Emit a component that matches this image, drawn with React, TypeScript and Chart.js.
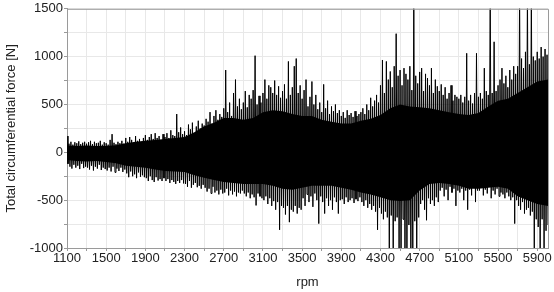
import React, { useEffect, useRef } from "react";
import { Chart, registerables } from "chart.js";

Chart.register(...registerables);

// Sample positions (rpm): one oscillation peak/trough pair per 20 rpm
const rpmStart = 1100;
const rpmStep = 20;

// Upper peaks [N] per sample (rows = 200 rpm)
const upperPeaks: number[] = [
  170, 90, 110, 80, 105, 95, 115, 85, 100, 110,
  90, 105, 120, 85, 110, 95, 100, 120, 80, 105,
  95, 80, 130, 190, 100, 85, 110, 95, 120, 90,
  150, 110, 160, 130, 100, 170, 120, 140, 110, 150,
  180, 130, 160, 190, 140, 200, 150, 170, 130, 190,
  160, 200, 150, 230, 180, 170, 400, 210, 260, 190,
  220, 180, 290, 240, 310, 200, 270, 330, 250, 300,
  280, 350, 320, 420, 300, 380, 440, 340, 400, 370,
  460, 860, 420, 520, 380, 620, 760, 480, 560, 450,
  520, 640, 470, 600, 560, 650, 1010, 500, 590, 520,
  620, 760, 560, 700, 680, 620, 750, 600, 690, 570,
  640, 710, 560, 950, 600, 680, 900, 980, 620, 700,
  560, 650, 760, 480, 580, 740, 500, 600, 450, 520,
  420, 710, 460, 540, 400, 480, 430, 500, 410, 440,
  380, 420, 360, 440, 390, 410, 370, 430, 380, 400,
  420, 460, 400, 500, 440, 570, 480, 540, 600, 520,
  700, 965, 620, 950, 760, 845, 680, 900, 1240, 800,
  860, 700, 880, 820, 760, 900, 650, 1700, 800, 720,
  840, 880, 640, 820, 775, 700, 880, 620, 760, 690,
  640, 710, 600, 680, 560, 620, 700, 540, 600, 580,
  560, 600, 520, 580, 1035, 540, 600, 510, 620, 1035,
  580, 620, 560, 880, 640, 600, 1700, 620, 1155, 640,
  700, 760, 880, 720, 800, 680, 860, 760, 900, 820,
  900, 1700, 980, 880, 1050, 1700, 920, 1700, 1000, 960,
  1050, 980, 1100, 1000, 1080, 1020,
];

// Lower troughs [N] per sample
const lowerPeaks: number[] = [
  -120, -150, -170, -130, -160, -140, -175, -120, -165, -150,
  -160, -180, -140, -190, -150, -170, -130, -185, -160, -175,
  -190, -160, -200, -150, -210, -170, -195, -160, -205, -180,
  -220, -260, -200, -250, -230, -270, -210, -255, -240, -260,
  -270, -300, -250, -290, -310, -260, -295, -280, -300, -270,
  -300, -280, -320, -290, -310, -330, -300, -320, -290, -325,
  -330, -360, -300, -370, -340, -320, -365, -350, -380, -340,
  -370, -410, -380, -430, -360, -420, -400, -440, -390, -430,
  -420, -380, -450, -400, -440, -410, -460, -420, -430, -400,
  -430, -460, -420, -480, -440, -470, -555, -430, -460, -480,
  -500, -460, -540, -480, -560, -510, -600, -520, -810, -560,
  -580, -650, -560, -730, -600, -620, -560, -640, -580, -600,
  -480, -560, -440, -520, -460, -570, -430, -500, -745, -460,
  -520, -640, -480, -560, -500, -600, -470, -520, -640, -500,
  -490, -540, -470, -520, -500, -480, -530, -490, -510, -470,
  -520, -560, -500, -580, -540, -600, -560, -620, -810, -580,
  -640, -700, -620, -680, -1100, -660, -1100, -720, -680, -1100,
  -1100, -700, -1100, -1100, -760, -1100, -1100, -720, -1100, -680,
  -540, -500, -600, -710, -480, -540, -500, -560, -470, -520,
  -400, -370, -460, -390, -500, -360, -420, -380, -560, -400,
  -420, -380, -500, -400, -600, -390, -450, -370, -520, -400,
  -400, -370, -450, -390, -430, -360, -480, -400, -440, -380,
  -460, -420, -440, -480, -420, -460, -500, -470, -745, -500,
  -560, -600, -520, -640, -600, -580, -660, -620, -1100, -700,
  -780, -1100, -700, -1100, -820, -760,
];

// Dense (solid) band of the signal, read every 100 rpm
const coreRpm: number[] = [
  1100, 1200, 1300, 1400, 1500, 1600, 1700, 1800, 1900, 2000,
  2100, 2200, 2300, 2400, 2500, 2600, 2700, 2800, 2900, 3000,
  3100, 3200, 3300, 3400, 3500, 3600, 3700, 3800, 3900, 4000,
  4100, 4200, 4300, 4400, 4500, 4600, 4700, 4800, 4900, 5000,
  5100, 5200, 5300, 5400, 5500, 5600, 5700, 5800, 5900, 6010,
];
const coreUpper: number[] = [
  70, 65, 70, 65, 65, 75, 95, 110, 120, 130,
  140, 150, 160, 210, 270, 310, 360, 360, 340, 360,
  420, 440, 430, 400, 380, 380, 340, 320, 300, 300,
  330, 350, 390, 460, 500, 480, 470, 460, 440, 420,
  400, 390, 410, 480, 540, 560, 620, 680, 740, 760,
];
const coreLower: number[] = [
  -80, -90, -95, -90, -100, -115, -140, -150, -160, -180,
  -195, -200, -205, -240, -265, -290, -310, -320, -330, -330,
  -330, -350, -380, -390, -370, -350, -350, -350, -370, -390,
  -420, -440, -470, -500, -510, -500, -400, -330, -320, -330,
  -350, -380, -380, -370, -360, -380, -460, -500, -540, -560,
];

// Axis ticks
const xGridValues = [1100, 1300, 1500, 1700, 1900, 2100, 2300, 2500, 2700, 2900, 3100, 3300, 3500, 3700, 3900, 4100, 4300, 4500, 4700, 4900, 5100, 5300, 5500, 5700, 5900];
const xTickLabels = [1100, 1500, 1900, 2300, 2700, 3100, 3500, 3900, 4300, 4700, 5100, 5500, 5900];
const yGridValues = [-1000, -750, -500, -250, 0, 250, 500, 750, 1000, 1250, 1500];
const yTickLabels = [-1000, -500, 0, 500, 1000, 1500];

const FONT = "'Liberation Sans', Arial, sans-serif";

const framePlugin = {
  id: "frame",
  afterDatasetsDraw(chart: any) {
    const { ctx, chartArea } = chart;
    ctx.save();
    ctx.strokeStyle = "#9a9a9a";
    ctx.lineWidth = 1;
    ctx.beginPath();
    ctx.moveTo(chartArea.left, chartArea.top + 0.5);
    ctx.lineTo(chartArea.right + 0.5, chartArea.top + 0.5);
    ctx.lineTo(chartArea.right + 0.5, chartArea.bottom);
    ctx.stroke();
    ctx.restore();
  },
};

export default function App() {
  const ref = useRef<HTMLCanvasElement | null>(null);

  useEffect(() => {
    if (!ref.current) return;
    const points: { x: number; y: number }[] = [];
    for (let i = 0; i < upperPeaks.length; i++) {
      const rpm = rpmStart + i * rpmStep;
      points.push({ x: rpm, y: upperPeaks[i] });
      points.push({ x: rpm + rpmStep / 2, y: lowerPeaks[i] });
    }
    const lowerBand = coreRpm.map((r, i) => ({ x: r, y: coreLower[i] }));
    const upperBand = coreRpm.map((r, i) => ({ x: r, y: coreUpper[i] }));

    const chart = new Chart(ref.current, {
      type: "line",
      data: {
        datasets: [
          {
            data: points,
            borderColor: "#000000",
            borderWidth: 1,
            pointRadius: 0,
            tension: 0,
            fill: false,
          },
          {
            data: lowerBand,
            borderColor: "rgba(0,0,0,0)",
            borderWidth: 0,
            pointRadius: 0,
            fill: false,
          },
          {
            data: upperBand,
            borderColor: "rgba(0,0,0,0)",
            backgroundColor: "#000000",
            borderWidth: 0,
            pointRadius: 0,
            fill: 1,
          },
        ],
      },
      options: {
        animation: false,
        responsive: false,
        maintainAspectRatio: false,
        events: [],
        layout: { padding: { top: 7, right: 6, left: 0, bottom: 0 } },
        plugins: {
          legend: { display: false },
          tooltip: { enabled: false },
        },
        scales: {
          x: {
            type: "linear",
            min: 1100,
            max: 6010,
            afterBuildTicks: (scale: any) => {
              scale.ticks = xGridValues.map((v) => ({ value: v }));
            },
            afterFit: (scale: any) => {
              scale.height = 44;
            },
            ticks: {
              autoSkip: false,
              maxRotation: 0,
              padding: 0,
              color: "#222",
              font: { family: FONT, size: 13 },
              callback: (v: any) => (xTickLabels.includes(Number(v)) ? String(v) : ""),
            },
            grid: { color: "#e8e8e8", tickColor: "#999", tickLength: 3 },
            border: { color: "#9a9a9a", width: 1 },
            title: {
              display: true,
              text: "rpm",
              color: "#222",
              font: { family: FONT, size: 13 },
              padding: { top: 0, bottom: 2 },
            },
          },
          y: {
            type: "linear",
            min: -1000,
            max: 1500,
            afterBuildTicks: (scale: any) => {
              scale.ticks = yGridValues.map((v) => ({ value: v }));
            },
            afterFit: (scale: any) => {
              scale.width = 67;
            },
            ticks: {
              autoSkip: false,
              padding: 1,
              color: "#222",
              font: { family: FONT, size: 13 },
              callback: (v: any) => (yTickLabels.includes(Number(v)) ? String(v) : ""),
            },
            grid: { color: "#e8e8e8", tickColor: "#999", tickLength: 3 },
            border: { color: "#9a9a9a", width: 1 },
            title: {
              display: true,
              text: "Total circumferential force [N]",
              color: "#222",
              font: { family: FONT, size: 13 },
              padding: { top: 4, bottom: 0 },
            },
          },
        },
      },
      plugins: [framePlugin],
    });
    return () => chart.destroy();
  }, []);

  return (
    <div style={{ position: "fixed", left: 0, top: 0, width: 554, height: 292, background: "#fff" }}>
      <canvas ref={ref} width={554} height={292} style={{ width: 554, height: 292, display: "block" }} />
    </div>
  );
}
